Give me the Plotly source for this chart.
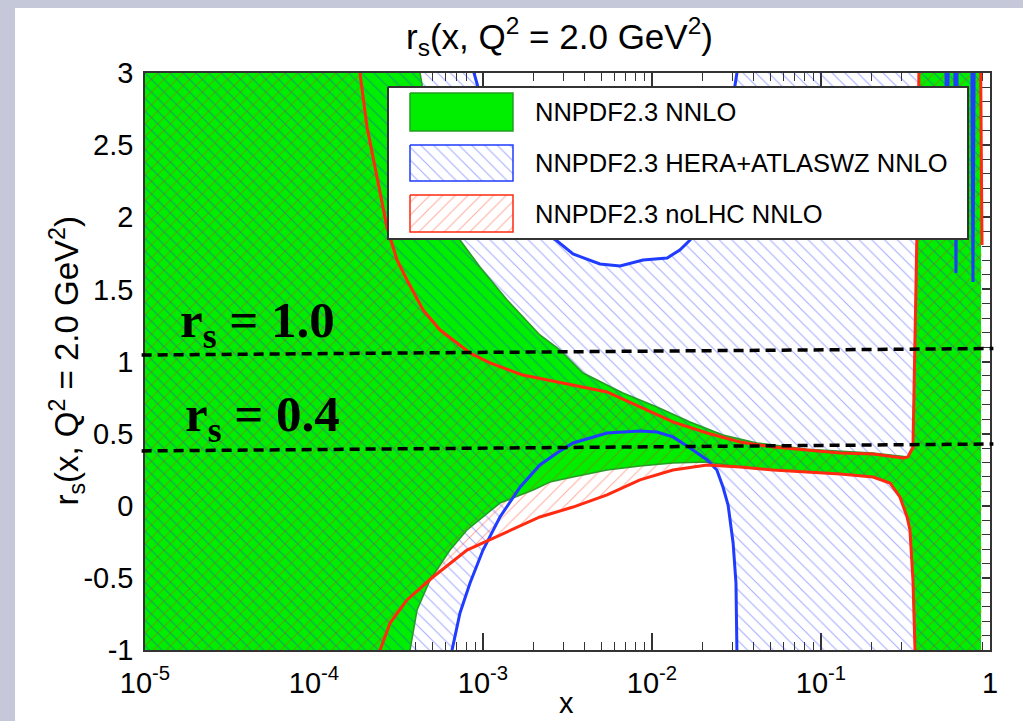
import plotly.graph_objects as go

# ---------------- data ----------------
# NNPDF2.3 NNLO (green, solid) -- lower / upper edges of the band
green_lo_x = [1e-5, 3.55e-4, 3.70e-4, 4.07e-4, 4.86e-4, 6.38e-4, 8.04e-4, 1.26e-3, 1.98e-3,
              2.49e-3, 3.41e-3, 5.42e-3, 8.49e-3, 1.33e-2, 2.12e-2, 3.32e-2, 5.20e-2, 8.26e-2,
              0.130, 0.203, 0.256, 0.293, 0.323, 0.336, 0.350, 0.360, 0.365, 0.885]
green_lo_y = [-1.5, -1.2, -1.0, -0.723, -0.515, -0.307, -0.168, 0.019, 0.109,
              0.165, 0.199, 0.248, 0.276, 0.296, 0.303, 0.269, 0.248, 0.234,
              0.220, 0.199, 0.158, 0.061, -0.078, -0.168, -0.515, -1.0, -1.5, -1.5]
green_hi_x = [1e-5, 3.96e-4, 4.24e-4, 4.36e-4, 4.99e-4, 5.96e-4, 7.31e-4, 9.60e-4, 1.39e-3,
              2.17e-3, 2.85e-3, 3.91e-3, 6.73e-3, 1.07e-2, 1.68e-2, 2.63e-2, 4.18e-2, 8.26e-2,
              0.203, 0.306, 0.327, 0.350, 0.370, 0.380, 0.385, 0.885]
green_hi_y = [3.6, 3.6, 3.0, 2.917, 2.466, 2.120, 1.842, 1.655, 1.426,
              1.184, 1.080, 0.920, 0.782, 0.685, 0.581, 0.490, 0.435, 0.392,
              0.366, 0.345, 0.338, 0.407, 1.912, 3.0, 3.6, 3.6]

# NNPDF2.3 HERA+ATLASWZ NNLO (blue hatch)
blue_lo_x = [1e-5, 6.38e-4, 6.56e-4, 7.31e-4, 8.38e-4, 1.0e-3, 1.26e-3, 1.66e-3, 2.17e-3,
             2.74e-3, 3.41e-3, 5.42e-3, 8.49e-3, 1.07e-2, 1.33e-2, 1.68e-2, 2.12e-2, 2.42e-2,
             2.63e-2, 2.82e-2, 3.02e-2, 3.14e-2, 3.18e-2, 3.23e-2, 0.885]
blue_lo_y = [-1.5, -1.5, -1.0, -0.743, -0.536, -0.307, -0.078, 0.130, 0.283,
             0.366, 0.435, 0.504, 0.518, 0.511, 0.477, 0.400, 0.317, 0.248,
             0.130, 0.005, -0.258, -0.536, -1.0, -1.5, -1.5]
blue_hi_x = [1e-5, 8.61e-4, 8.85e-4, 9.34e-4, 1.06e-3, 1.26e-3, 1.66e-3, 2.17e-3, 2.70e-3,
             3.41e-3, 4.92e-3, 6.47e-3, 8.85e-3, 1.23e-2, 1.46e-2, 1.68e-2, 2.06e-2, 2.46e-2,
             2.82e-2, 3.06e-2, 3.18e-2, 3.27e-2, 0.542, 0.557, 0.572, 0.616, 0.629, 0.642,
             0.777, 0.793, 0.810, 0.885]
blue_hi_y = [3.6, 3.6, 3.0, 2.903, 2.55, 2.25, 2.00, 1.90, 1.842,
             1.745, 1.676, 1.662, 1.704, 1.718, 1.773, 1.842, 1.981, 2.258,
             2.605, 2.896, 3.0, 3.6, 3.6, 2.3, 3.6, 3.6, 1.614, 3.6,
             3.6, 1.551, 3.6, 3.6]

# NNPDF2.3 noLHC NNLO (red hatch)
red_lo_x = [1e-5, 2.36e-4, 2.46e-4, 2.82e-4, 3.55e-4, 5.06e-4, 8.04e-4, 1.26e-3, 2.17e-3,
            3.41e-3, 5.42e-3, 8.49e-3, 1.33e-2, 2.12e-2, 3.32e-2, 5.20e-2, 8.26e-2, 0.130,
            0.203, 0.256, 0.293, 0.323, 0.336, 0.350, 0.360, 0.365, 0.897]
red_lo_y = [-1.5, -1.5, -1.0, -0.813, -0.653, -0.494, -0.307, -0.203, -0.078,
            -0.009, 0.075, 0.179, 0.248, 0.283, 0.269, 0.248, 0.234, 0.220,
            0.199, 0.158, 0.061, -0.078, -0.168, -0.515, -1.0, -1.5, -1.5]
red_hi_x = [1e-5, 1.80e-4, 1.87e-4, 2.06e-4, 2.36e-4, 2.70e-4, 3.10e-4, 3.55e-4, 4.42e-4,
            5.57e-4, 8.38e-4, 1.10e-3, 1.72e-3, 2.74e-3, 3.75e-3, 5.42e-3, 8.49e-3, 1.33e-2,
            2.12e-2, 3.32e-2, 5.20e-2, 8.26e-2, 0.130, 0.203, 0.306, 0.327, 0.350, 0.370,
            0.380, 0.385, 0.873, 0.897]
red_hi_y = [3.6, 3.6, 3.0, 2.626, 2.279, 1.932, 1.704, 1.565, 1.357,
            1.218, 1.059, 0.990, 0.906, 0.858, 0.830, 0.789, 0.685, 0.581,
            0.504, 0.442, 0.407, 0.386, 0.366, 0.359, 0.331, 0.338, 0.407, 1.912,
            3.0, 3.6, 3.6, 1.808]

# reference lines drawn over the plot (nominal level, left end, right end)
ref_levels = ["1.0", "0.4"]
ref_left_y = [1.045, 0.380]
ref_right_y = [1.090, 0.428]

series_names = ["NNPDF2.3 NNLO", "NNPDF2.3 HERA+ATLASWZ NNLO", "NNPDF2.3 noLHC NNLO"]

x_tickvals = [1e-5, 1e-4, 1e-3, 1e-2, 1e-1, 1]
x_ticktext = ["10<sup>-5</sup>", "10<sup>-4</sup>", "10<sup>-3</sup>",
              "10<sup>-2</sup>", "10<sup>-1</sup>", "1"]
y_tickvals = [-1, -0.5, 0, 0.5, 1, 1.5, 2, 2.5, 3]
y_ticktext = ["-1", "-0.5", "0", "0.5", "1", "1.5", "2", "2.5", "3"]

# ---------------- styling ----------------
GREEN = "#00ee00"
GREEN_EDGE = "#2a9a2a"
BLUE = "#1f3cff"
RED = "#ff2a10"
SANS = "Liberation Sans, Arial, Helvetica, sans-serif"
AX = "#333333"

blue_pattern = dict(shape="\\", fgcolor="#2030ff", fgopacity=0.40, bgcolor="rgba(0,0,0,0)",
                    size=9, solidity=0.12)
red_pattern = dict(shape="/", fgcolor="#ff2000", fgopacity=0.36, bgcolor="rgba(0,0,0,0)",
                   size=9, solidity=0.12)


def band(lx, ly, hx, hy):
    return lx + hx[::-1], ly + hy[::-1]


fig = go.Figure()

# band fills
gx, gy = band(green_lo_x, green_lo_y, green_hi_x, green_hi_y)
fig.add_trace(go.Scatter(x=gx, y=gy, fill="toself", fillcolor=GREEN, mode="lines",
                         line=dict(width=0), hoverinfo="skip"))
bx, by = band(blue_lo_x, blue_lo_y, blue_hi_x, blue_hi_y)
fig.add_trace(go.Scatter(x=bx, y=by, fill="toself", fillcolor="rgba(0,0,0,0)",
                         fillpattern=blue_pattern, mode="lines", line=dict(width=0),
                         hoverinfo="skip"))
rx, ry = band(red_lo_x, red_lo_y, red_hi_x, red_hi_y)
fig.add_trace(go.Scatter(x=rx, y=ry, fill="toself", fillcolor="rgba(0,0,0,0)",
                         fillpattern=red_pattern, mode="lines", line=dict(width=0),
                         hoverinfo="skip"))

# band edges
for xs, ys in [(green_lo_x, green_lo_y), (green_hi_x, green_hi_y)]:
    fig.add_trace(go.Scatter(x=xs, y=ys, mode="lines", line=dict(color=GREEN_EDGE, width=1.6)))
for xs, ys in [(blue_lo_x, blue_lo_y), (blue_hi_x, blue_hi_y)]:
    fig.add_trace(go.Scatter(x=xs, y=ys, mode="lines", line=dict(color=BLUE, width=3)))
for xs, ys in [(red_lo_x, red_lo_y), (red_hi_x, red_hi_y)]:
    fig.add_trace(go.Scatter(x=xs, y=ys, mode="lines", line=dict(color=RED, width=3)))

# ---------------- legend (drawn on an overlay axis in pixel units) ----------------
LB = dict(x0=388, x1=968, y0=87, y1=239)
fig.add_trace(go.Scatter(x=[LB["x0"], LB["x1"], LB["x1"], LB["x0"], LB["x0"]],
                         y=[LB["y0"], LB["y0"], LB["y1"], LB["y1"], LB["y0"]],
                         xaxis="x2", yaxis="y2", fill="toself", fillcolor="white",
                         mode="lines", line=dict(color=AX, width=2), hoverinfo="skip"))
rows = [(93, 131), (145, 181), (195, 232)]
sw_styles = [
    dict(fillcolor=GREEN, line=dict(color="#22a022", width=1.5)),
    dict(fillcolor="rgba(0,0,0,0)", fillpattern=blue_pattern, line=dict(color=BLUE, width=1.5)),
    dict(fillcolor="rgba(0,0,0,0)", fillpattern=red_pattern, line=dict(color=RED, width=1.5)),
]
for (y0, y1), st, name in zip(rows, sw_styles, series_names):
    fig.add_trace(go.Scatter(x=[410, 513, 513, 410, 410], y=[y0, y0, y1, y1, y0],
                             xaxis="x2", yaxis="y2", fill="toself", mode="lines",
                             hoverinfo="skip", **st))
    fig.add_annotation(x=533, y=(y0 + y1) / 2, xref="x2", yref="y2", text=name,
                       showarrow=False, xanchor="left", yanchor="middle",
                       font=dict(family=SANS, size=25.5, color="black"))

# ---------------- dashed reference lines + labels ----------------
label_pos = [(0.039, 0.565), (0.045, 0.402)]
for lev, yl, yr, (ax_, ay_) in zip(ref_levels, ref_left_y, ref_right_y, label_pos):
    fig.add_shape(type="line", xref="paper", yref="y", x0=-0.004, x1=1.004, y0=yl, y1=yr,
                  line=dict(color="black", width=3.5, dash="10px,6px"), layer="above")
    fig.add_annotation(x=ax_, y=ay_, xref="paper", yref="paper", showarrow=False,
                       xanchor="left", yanchor="middle",
                       text="<b>r<sub>s</sub> = " + lev + "</b>",
                       font=dict(family="Liberation Serif, DejaVu Serif, serif", size=51,
                                 color="black"))

# titles
title_txt = "r<sub>s</sub>(x, Q<sup>2</sup> = 2.0 GeV<sup>2</sup>)"
fig.add_annotation(x=0.490, y=1.064, xref="paper", yref="paper", text=title_txt,
                   showarrow=False, xanchor="center", yanchor="middle",
                   font=dict(family=SANS, size=35, color="black"))
fig.add_annotation(x=-0.0923, y=0.5, xref="paper", yref="paper", text=title_txt,
                   textangle=-90, showarrow=False, xanchor="center", yanchor="middle",
                   font=dict(family=SANS, size=33, color="black"))
fig.add_annotation(x=0.4994, y=-0.1225, xref="paper", yref="paper", text="x",
                   showarrow=False, xanchor="center", yanchor="bottom",
                   font=dict(family=SANS, size=29, color="black"))

# white panel over lavender page
fig.add_shape(type="rect", xref="paper", yref="paper", x0=-0.1538, x1=1.06, y0=-0.2,
              y1=1.1127, fillcolor="white", line=dict(width=0), layer="below")

minor_x = [m * 10.0 ** d for d in range(-5, 0) for m in range(2, 10)]

fig.update_layout(
    width=1023, height=721,
    margin=dict(l=145, r=33, t=73, b=71),
    paper_bgcolor="#c5c8d9",
    plot_bgcolor="rgba(0,0,0,0)",
    showlegend=False,
    xaxis=dict(type="log", range=[-5, 0], tickmode="array", tickvals=x_tickvals,
               ticktext=x_ticktext, ticks="inside", ticklen=17, tickwidth=1.5,
               tickcolor=AX, showline=True, linecolor=AX, linewidth=1.5, mirror="ticks",
               showgrid=False, zeroline=False, layer="below traces",
               tickfont=dict(family=SANS, size=29, color="black"), ticklabelstandoff=6,
               minor=dict(tickvals=minor_x, ticks="inside", ticklen=8, tickwidth=1.3,
                          tickcolor=AX, showgrid=False)),
    yaxis=dict(range=[-1, 3], tickmode="array", tickvals=y_tickvals, ticktext=y_ticktext,
               ticks="inside", ticklen=8, tickwidth=1.5, tickcolor=AX, showline=True,
               linecolor=AX, linewidth=1.5, mirror="ticks", showgrid=False, zeroline=False,
               layer="below traces", tickfont=dict(family=SANS, size=29, color="black"),
               ticklabelstandoff=4,
               minor=dict(dtick=0.1, ticks="inside", ticklen=8, tickwidth=1.3, tickcolor=AX,
                          showgrid=False)),
    xaxis2=dict(overlaying="x", anchor="y2", range=[145, 990], visible=False,
                showgrid=False, zeroline=False),
    yaxis2=dict(overlaying="y", anchor="x2", range=[650, 73], visible=False,
                showgrid=False, zeroline=False),
)

fig.write_html("out.html")
